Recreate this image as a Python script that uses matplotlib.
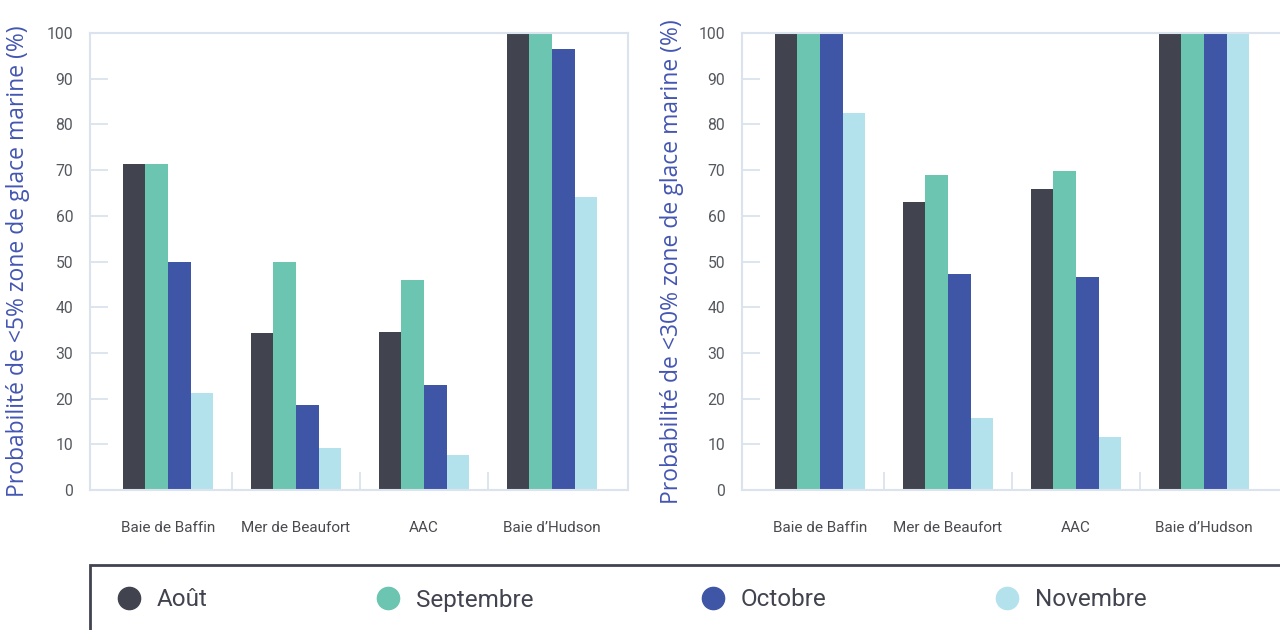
import matplotlib
matplotlib.use("Agg")
import matplotlib.pyplot as plt
import numpy as np
from matplotlib.lines import Line2D
from matplotlib.patches import Rectangle

regions = ["Baie de Baffin", "Mer de Beaufort", "AAC", "Baie d\u2019Hudson"]
months = ["Août", "Septembre", "Octobre", "Novembre"]
colors = ["#41434f", "#6cc5b0", "#3f55a5", "#b3e2ed"]

# probability of <5% sea-ice area, per month, one value per region
p5_aout = [71.3, 34.3, 34.5, 100]
p5_sept = [71.3, 50.0, 46.0, 100]
p5_oct = [50.0, 18.5, 23.0, 96.4]
p5_nov = [21.2, 9.2, 7.6, 64.2]

# probability of <30% sea-ice area
p30_aout = [100, 63.0, 65.8, 100]
p30_sept = [100, 69.0, 69.7, 100]
p30_oct = [100, 47.2, 46.6, 100]
p30_nov = [82.4, 15.8, 11.7, 100]

ylabels = ["Probabilité de <5% zone de glace marine (%)",
           "Probabilité de <30% zone de glace marine (%)"]

spine_c = "#dae3ee"
label_c = "#4456b2"

fig = plt.figure(figsize=(12.8, 6.3), dpi=100)
W, H = 1280, 630


def panel(left_px, series, ylabel, label_x):
    ax = fig.add_axes([left_px / W, (H - 490) / H, 538 / W, 457 / H])
    x = np.arange(len(regions))
    bw = 0.176
    for i, (vals, c) in enumerate(zip(series, colors)):
        ax.bar(x + (i - 1.5) * bw, vals, width=bw, color=c, zorder=2)
    ax.set_xlim(-78 / 128, 3 + 76 / 128)
    ax.set_ylim(0, 100)
    ax.set_yticks(np.arange(0, 101, 10))
    ax.set_xticks(x)
    ax.set_xticklabels(regions, fontfamily="Roboto", fontsize=11, color="#4a4a4f")
    ax.set_xticks(x[:-1] + 0.5, minor=True)
    ax.tick_params(axis="x", which="major", length=0, pad=22)
    ax.tick_params(axis="x", which="minor", direction="in", length=13,
                   color=spine_c, width=1.3)
    ax.tick_params(axis="y", direction="in", length=13, color=spine_c, width=1.3,
                   pad=12, labelsize=11.3, labelcolor="#55595f")
    for t in ax.get_yticklabels():
        t.set_fontfamily("Roboto")
    for s in ax.spines.values():
        s.set_color(spine_c)
        s.set_linewidth(1.5)
    ax.set_ylabel(ylabel, fontfamily="Open Sans", fontsize=16.5, color=label_c)
    ax.yaxis.set_label_coords(label_x, 0.5)
    return ax


panel(90, [p5_aout, p5_sept, p5_oct, p5_nov], ylabels[0], -0.112)
ax_r = panel(742, [p30_aout, p30_sept, p30_oct, p30_nov], ylabels[1], -0.108)
ax_r.spines["right"].set_visible(False)  # runs past the picture edge in the original

# legend box, cut by the figure edge like the original
box_y0 = -0.05
box_h = (H - 565) / H - box_y0
fig.patches.append(Rectangle((90 / W, box_y0), 1.0, box_h, transform=fig.transFigure,
                             fill=False, ec="#41434f", lw=2))
handles = [Line2D([], [], ls="", marker="o", ms=16, mfc=c, mec=c) for c in colors]
leg = fig.legend(handles, months, ncol=4, frameon=False, loc="center left",
                 bbox_to_anchor=(117 / W, 30 / H), borderpad=0, borderaxespad=0,
                 prop={"family": "Roboto", "size": 17.5}, handlelength=1.0,
                 handletextpad=0.65, columnspacing=6.9)
for t in leg.get_texts():
    t.set_color("#41434f")

fig.savefig("out.png", dpi=100)
